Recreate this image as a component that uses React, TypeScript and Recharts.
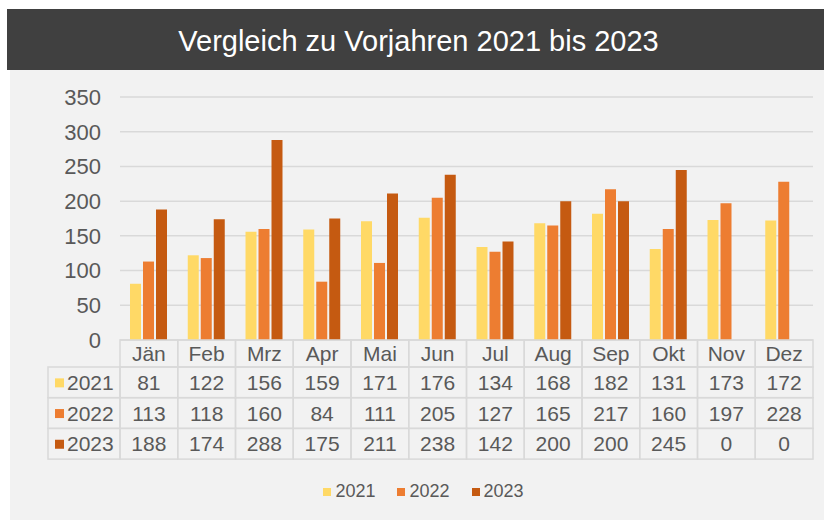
import { BarChart, Bar, XAxis, YAxis, CartesianGrid, Legend } from "recharts"

const months = ["Jän", "Feb", "Mrz", "Apr", "Mai", "Jun", "Jul", "Aug", "Sep", "Okt", "Nov", "Dez"]
const values2021 = [81, 122, 156, 159, 171, 176, 134, 168, 182, 131, 173, 172]
const values2022 = [113, 118, 160, 84, 111, 205, 127, 165, 217, 160, 197, 228]
const values2023 = [188, 174, 288, 175, 211, 238, 142, 200, 200, 245, 0, 0]
const seriesNames = ["2021", "2022", "2023"]
const yTicks = [0, 50, 100, 150, 200, 250, 300, 350]
const title = "Vergleich zu Vorjahren 2021 bis 2023"

const colors = ["#FFD966", "#ED7D31", "#C55A11"]
const seriesValues = [values2021, values2022, values2023]

const data = months.map((month, i) => ({
  month,
  [seriesNames[0]]: values2021[i],
  [seriesNames[1]]: values2022[i],
  [seriesNames[2]]: values2023[i],
}))

const CHART_W = 824
const CHART_H = 450
const PLOT_LEFT = 120
const PLOT_RIGHT = 11
const COL_W = (CHART_W - PLOT_LEFT - PLOT_RIGHT) / months.length
const HEAD_H = 27
const ROW_H = 30.7
const LABEL_W = 72
const TEXT = "#595959"
const BORDER = "#d9d9d9"
const FONT = '"Liberation Sans", Arial, sans-serif'

// data table drawn as the x axis ticks, one column per month
function TableTick(props: any) {
  const { x, y, payload } = props
  const i = payload.index
  const left = x - COL_W / 2
  return (
    <g>
      <rect x={left} y={y} width={COL_W} height={HEAD_H} fill="none" stroke={BORDER} strokeWidth={1.5} />
      <text x={x} y={y + HEAD_H / 2} textAnchor="middle" dominantBaseline="central" fill={TEXT} fontSize={21} fontFamily={FONT}>
        {payload.value}
      </text>
      {seriesValues.map((vals, r) => {
        const top = y + HEAD_H + r * ROW_H
        return (
          <g key={r}>
            <rect x={left} y={top} width={COL_W} height={ROW_H} fill="none" stroke={BORDER} strokeWidth={1.5} />
            <text x={x} y={top + ROW_H / 2} textAnchor="middle" dominantBaseline="central" fill={TEXT} fontSize={21} fontFamily={FONT}>
              {vals[i]}
            </text>
            {i === 0 && (
              <g>
                <rect x={left - LABEL_W} y={top} width={LABEL_W} height={ROW_H} fill="none" stroke={BORDER} strokeWidth={1.5} />
                <rect x={left - LABEL_W + 7} y={top + ROW_H / 2 - 4} width={9} height={9} fill={colors[r]} />
                <text x={left - LABEL_W + 19} y={top + ROW_H / 2} dominantBaseline="central" fill={TEXT} fontSize={21} fontFamily={FONT}>
                  {seriesNames[r]}
                </text>
              </g>
            )}
          </g>
        )
      })}
    </g>
  )
}

function LegendContent() {
  return (
    <div style={{ height: 61, display: "flex", justifyContent: "center", alignItems: "center", paddingLeft: 34, paddingTop: 2 }}>
      {seriesNames.map((name, i) => (
        <div key={name} style={{ display: "flex", alignItems: "center", margin: "0 11px" }}>
          <span style={{ width: 8, height: 8, background: colors[i], marginRight: 4 }} />
          <span style={{ fontSize: 18, color: TEXT, fontFamily: FONT }}>{name}</span>
        </div>
      ))}
    </div>
  )
}

export default function App() {
  return (
    <div style={{ position: "absolute", left: 0, top: 0, width: 824, height: 520, background: "#fff", fontFamily: FONT }}>
      <div
        style={{
          position: "absolute",
          left: 7,
          top: 9,
          width: 817,
          height: 61,
          background: "#404040",
          color: "#fff",
          fontSize: 29,
          display: "flex",
          alignItems: "center",
          justifyContent: "center",
          paddingTop: 4,
          paddingLeft: 6,
          boxSizing: "border-box",
        }}
      >
        {title}
      </div>
      <div style={{ position: "absolute", left: 10, top: 70, width: 814, height: 450, background: "#f2f2f2" }} />
      <div style={{ position: "absolute", left: 0, top: 70 }}>
        <BarChart
          width={CHART_W}
          height={CHART_H}
          data={data}
          margin={{ top: 27, right: PLOT_RIGHT, left: 0, bottom: 0 }}
          barGap={2}
          barCategoryGap={10}
        >
          <CartesianGrid horizontal vertical={false} stroke={BORDER} strokeWidth={1.5} />
          <XAxis
            dataKey="month"
            height={119}
            interval={0}
            axisLine={false}
            tickLine={false}
            tickSize={0}
            tickMargin={0}
            tick={<TableTick />}
          />
          <YAxis
            width={PLOT_LEFT}
            domain={[0, 350]}
            ticks={yTicks}
            axisLine={false}
            tickLine={false}
            tickSize={0}
            tickMargin={19}
            tick={{ fill: TEXT, fontSize: 22, fontFamily: FONT }}
          />
          <Legend verticalAlign="bottom" height={61} content={<LegendContent />} />
          {seriesNames.map((name, i) => (
            <Bar key={name} dataKey={name} fill={colors[i]} isAnimationActive={false} />
          ))}
        </BarChart>
      </div>
    </div>
  )
}
